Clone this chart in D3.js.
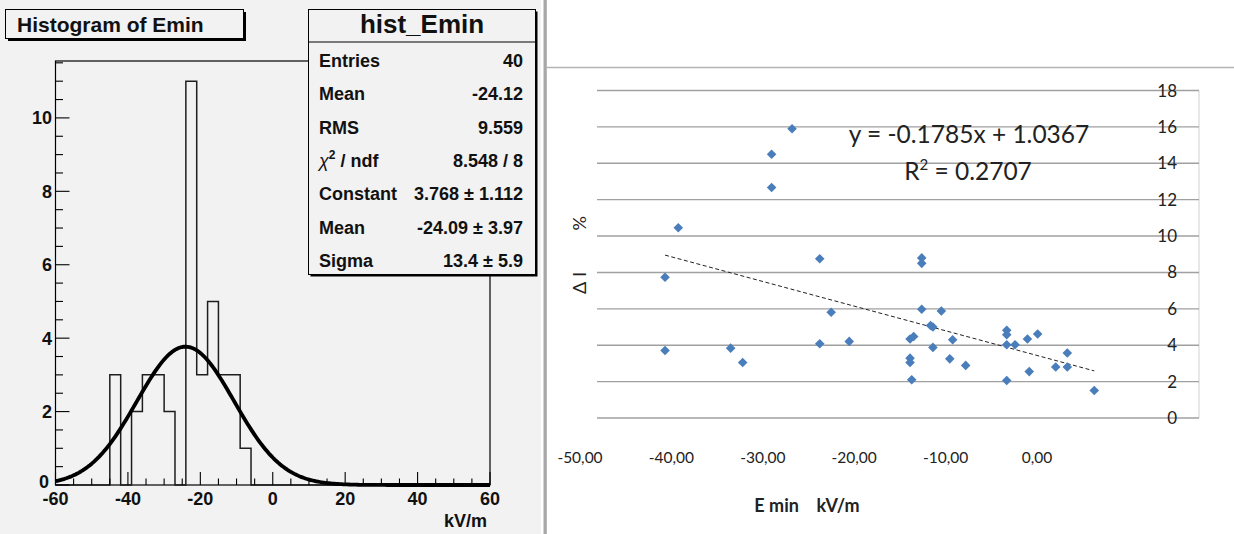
<!DOCTYPE html>
<html><head><meta charset="utf-8">
<script src="https://cdn.jsdelivr.net/npm/d3@7"></script>
<style>body{margin:0;background:#fff} svg{display:block}</style>
</head><body>
<svg id="c" width="1234" height="534"></svg>
<script>
// ---------- Left: ROOT histogram data ----------
const histTitle = "Histogram of Emin";
const histName = "hist_Emin";
const histLow = -60, histHigh = 60;
// 40 bins of width 3 from -60 to 60
const histCounts = [0,0,0,0,0,3,0,2,3,3, 2,0,11,3,5,3,3,1,0,0, 0,0,0,0,0,0,0,0,0,0, 0,0,0,0,0,0,0,0,0,0];
const histXTicks = [-60,-40,-20,0,20,40,60];
const histYTicks = [0,2,4,6,8,10];
const histXTitle = "kV/m";
const statsLabels = ["Entries","Mean","RMS","χ2 / ndf","Constant","Mean","Sigma"];
const statsValues = ["40","-24.12","9.559","8.548 / 8","3.768 ± 1.112","-24.09 ± 3.97","13.4 ± 5.9"];
const fitConstant = 3.768, fitMean = -24.09, fitSigma = 13.4;

// ---------- Right: Excel scatter data ----------
const scatterX = [-33.8,-35.5,-35.5,-43.25,-31.5,-44.35,-44.35,-38.9,-37.9,-31.5,-30.55,-29.05,
  -23.03,-23.03,-23.03,-21.4,-22.3,-22.1,-24.0,-23.7,-20.46,-22.1,-24.0,-24.0,-23.86,-20.7,-19.38,
  -15.97,-15.97,-15.97,-15.28,-14.25,-13.4,-14.1,-15.97,-11.9,-10.94,-10.94,-8.7];
const scatterY = [15.9,14.5,12.67,10.46,8.75,7.74,3.71,3.84,3.05,4.08,5.81,4.21,
  8.8,8.5,5.98,5.88,5.08,5.0,4.34,4.48,4.30,3.88,3.29,3.05,2.1,3.25,2.89,
  4.82,4.58,4.03,4.03,4.34,4.62,2.55,2.06,2.8,3.57,2.8,1.51];
const trendSlope = -0.1785, trendIntercept = 1.0367;
const trendText = "y = -0.1785x + 1.0367";
const r2Text = "0.2707";
const scatterXTicks = [-50,-40,-30,-20,-10,0];
const scatterYTicks = [0,2,4,6,8,10,12,14,16,18];
const scatterXTitle = "E min    kV/m";
const scatterYTitle = "Δ I         %";

const svg = d3.select("#c");
const rootFont = "'Liberation Sans', Arial, Helvetica, sans-serif";
const xlFont = "Lato, 'Open Sans', sans-serif";

// ===== Left panel =====
svg.append("rect").attr("x",0).attr("y",0).attr("width",541).attr("height",534).attr("fill","#f2f2f2");

const hx = d3.scaleLinear().domain([histLow, histHigh]).range([55.5, 490]);
const hy = d3.scaleLinear().domain([0, 11.55]).range([485, 61]);
const binW = (histHigh - histLow) / histCounts.length;

// frame
svg.append("rect").attr("x",hx(histLow)).attr("y",hy(11.55)).attr("width",hx(histHigh)-hx(histLow))
  .attr("height",hy(0)-hy(11.55)).attr("fill","none").attr("stroke","#000").attr("stroke-width",1.2);

// histogram outline (step)
let pts = [[hx(histLow), hy(0)]];
histCounts.forEach((c,i)=>{
  const x0 = hx(histLow + i*binW), x1 = hx(histLow + (i+1)*binW);
  pts.push([x0, hy(c)]); pts.push([x1, hy(c)]);
});
pts.push([hx(histHigh), hy(0)]);
svg.append("path").attr("d", d3.line()(pts)).attr("fill","none").attr("stroke","#1e1e1e").attr("stroke-width",1.5);

// x ticks
const xMinor = d3.range(histLow, histHigh + 0.01, 5);
svg.append("g").selectAll("line").data(xMinor).join("line")
  .attr("x1",d=>hx(d)).attr("x2",d=>hx(d)).attr("y1",hy(0))
  .attr("y2",d=> histXTicks.includes(d) ? hy(0)-13 : hy(0)-6.5)
  .attr("stroke","#000").attr("stroke-width",1.1);
svg.append("g").selectAll("text").data(histXTicks).join("text")
  .attr("x",d=>hx(d)).attr("y",505).attr("text-anchor","middle")
  .attr("font-family",rootFont).attr("font-weight","bold").attr("font-size",18).attr("fill","#111")
  .text(d=>d);
svg.append("text").attr("x",487).attr("y",527).attr("text-anchor","end")
  .attr("font-family",rootFont).attr("font-weight","bold").attr("font-size",18).attr("fill","#111").text(histXTitle);

// y ticks
const yMinor = d3.range(0, 11.51, 0.5);
svg.append("g").selectAll("line").data(yMinor).join("line")
  .attr("x1",hx(histLow)).attr("x2",d=> (d%2===0) ? hx(histLow)+14 : hx(histLow)+7.5)
  .attr("y1",d=>hy(d)).attr("y2",d=>hy(d)).attr("stroke","#000").attr("stroke-width",1.1);
svg.append("g").selectAll("text").data(histYTicks).join("text")
  .attr("x",d=> d===0 ? 49 : 52).attr("y",d=> d===0 ? hy(d)+3 : hy(d)+6.5).attr("text-anchor","end")
  .attr("font-family",rootFont).attr("font-weight","bold").attr("font-size",18).attr("fill","#111")
  .text(d=>d);

// gaussian fit curve from the fit parameters
const fitXs = d3.range(histLow, histHigh + 0.001, 0.5);
svg.append("path")
  .attr("d", d3.line().x(d=>hx(d)).y(d=>hy(fitConstant*Math.exp(-0.5*Math.pow((d-fitMean)/fitSigma,2))))(fitXs))
  .attr("fill","none").attr("stroke","#000").attr("stroke-width",3.8).attr("stroke-linejoin","round");

// title box
svg.append("rect").attr("x",8).attr("y",12).attr("width",238).attr("height",29).attr("fill","#000");
svg.append("rect").attr("x",5.5).attr("y",9.5).attr("width",238).attr("height",29).attr("fill","#f2f2f2").attr("stroke","#000").attr("stroke-width",1);
svg.append("text").attr("x",17).attr("y",31.5).attr("font-family",rootFont).attr("font-weight","bold")
  .attr("font-size",21).attr("fill","#111").text(histTitle);

// stats box
svg.append("rect").attr("x",310.5).attr("y",11.5).attr("width",227).attr("height",265).attr("fill","#000");
svg.append("rect").attr("x",308.5).attr("y",9.5).attr("width",227).attr("height",265).attr("fill","#f2f2f2").attr("stroke","#000").attr("stroke-width",1);
svg.append("line").attr("x1",308.5).attr("x2",535.5).attr("y1",42).attr("y2",42).attr("stroke","#000").attr("stroke-width",1.2);
svg.append("text").attr("x",422).attr("y",33).attr("text-anchor","middle").attr("font-family",rootFont)
  .attr("font-weight","bold").attr("font-size",26).attr("fill","#111").text(histName);
const sg = svg.append("g").attr("font-family",rootFont).attr("font-weight","bold").attr("font-size",18).attr("fill","#111");
statsLabels.forEach((l,i)=>{
  const y = 67 + i*33.33;
  const t = sg.append("text").attr("x",319).attr("y",y);
  if (l.startsWith("χ2")) {
    t.append("tspan").attr("font-weight","normal").attr("font-style","italic").text("χ");
    t.append("tspan").attr("font-size",12).attr("dy",-8).text("2");
    t.append("tspan").attr("dy",8).text(l.slice(2));
  } else t.text(l);
  sg.append("text").attr("x",523).attr("y",y).attr("text-anchor","end").text(statsValues[i]);
});

// ===== divider & right panel =====
svg.append("rect").attr("x",543.5).attr("y",0).attr("width",3.3).attr("height",534).attr("fill","#a8a8a8");
svg.append("line").attr("x1",546).attr("x2",1234).attr("y1",67.5).attr("y2",67.5).attr("stroke","#b4b4b4").attr("stroke-width",1.3);

const sx = d3.scaleLinear().domain([-50, 0]).range([597, 1199]);
const sy = d3.scaleLinear().domain([0, 18]).range([418, 90.5]);
const sxLab = d3.scaleLinear().domain([-50, 0]).range([580, 1037]);

// plot area right border
svg.append("line").attr("x1",1199).attr("x2",1199).attr("y1",sy(18)).attr("y2",sy(0)).attr("stroke","#d9d9d9").attr("stroke-width",1.2);
// gridlines
svg.append("g").selectAll("line").data(scatterYTicks).join("line")
  .attr("x1",sx(-50)).attr("x2",sx(0)).attr("y1",d=>sy(d)).attr("y2",d=>sy(d))
  .attr("stroke","#a0a0a0").attr("stroke-width",1.4);
// y labels
svg.append("g").selectAll("text").data(scatterYTicks).join("text")
  .attr("x",1177).attr("y",d=>sy(d)+6).attr("text-anchor","end")
  .attr("font-family",xlFont).attr("font-size",17).attr("fill","#222").text(d=>d);
// x labels
svg.append("g").selectAll("text").data(scatterXTicks).join("text")
  .attr("x",d=>sxLab(d)).attr("y",463).attr("text-anchor","middle")
  .attr("font-family",xlFont).attr("font-size",15.5).attr("fill","#222")
  .text(d=>d3.format(".2f")(d).replace(".",",").replace("−","-"));
// axis titles
svg.append("text").attr("x",807).attr("y",512).attr("text-anchor","middle").attr("xml:space","preserve")
  .style("white-space","pre").attr("font-family",xlFont).attr("font-weight","bold").attr("font-size",18).attr("fill","#222")
  .text(scatterXTitle);
svg.append("text").attr("transform","translate(586,255) rotate(-90)").attr("text-anchor","middle").attr("xml:space","preserve")
  .style("white-space","pre").attr("font-family",xlFont).attr("font-size",18).attr("fill","#222").text(scatterYTitle);

// trendline
const tx = d3.extent(scatterX);
svg.append("line").attr("x1",sx(tx[0])).attr("x2",sx(tx[1]))
  .attr("y1",sy(trendSlope*tx[0]+trendIntercept)).attr("y2",sy(trendSlope*tx[1]+trendIntercept))
  .attr("stroke","#222").attr("stroke-width",1).attr("stroke-dasharray","4,2.5");

// points
svg.append("g").selectAll("path").data(scatterX.map((x,i)=>[x,scatterY[i]])).join("path")
  .attr("d", d3.symbol().type(d3.symbolSquare).size(46)())
  .attr("transform",d=>`translate(${sx(d[0])},${sy(d[1])}) rotate(45)`)
  .attr("fill","#4a7ebb");

// equation
svg.append("text").attr("x",969).attr("y",143).attr("text-anchor","middle")
  .attr("font-family",xlFont).attr("font-size",24.5).attr("fill","#222").text(trendText);
const r2 = svg.append("text").attr("x",968).attr("y",180).attr("text-anchor","middle")
  .attr("font-family",xlFont).attr("font-size",24.5).attr("fill","#222");
r2.append("tspan").text("R");
r2.append("tspan").attr("font-size",15).attr("dy",-10).text("2");
r2.append("tspan").attr("dy",10).text(" = " + r2Text);
</script>
</body></html>
